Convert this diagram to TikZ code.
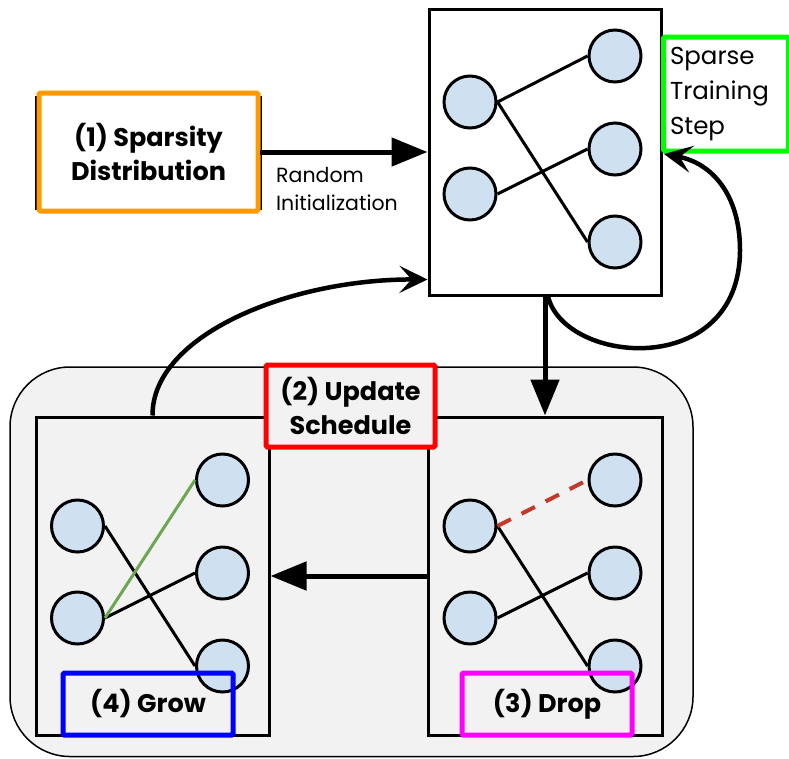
\documentclass[tikz,border=0pt]{standalone}
\usepackage{fontspec}
\setmainfont{Poppins}
\usetikzlibrary{arrows.meta}

\definecolor{panelgray}{HTML}{F2F2F2}
\definecolor{neuronblue}{HTML}{CFE0F1}
\definecolor{growgreen}{HTML}{6AA84F}
\definecolor{dropred}{HTML}{C5392A}
\definecolor{tagorange}{HTML}{FF9900}
\definecolor{tagred}{HTML}{FF0000}
\definecolor{tagblue}{HTML}{0000FF}
\definecolor{tagmagenta}{HTML}{FF00FF}
\definecolor{taggreen}{HTML}{00FF00}

\tikzset{
  neuron/.style={circle, draw=black, line width=3pt, fill=neuronblue,
    minimum size=52pt, inner sep=0pt},
  netbox/.style={draw=black, line width=3pt, inner sep=0pt},
  link/.style={draw=black, line width=3pt},
  flow/.style={line width=5pt, -{Triangle[length=36pt,width=28pt]}},
  curvearrow/.style={line width=4.5pt, -{Stealth[length=28pt,width=27pt,inset=12pt]}},
  tag/.style={line width=5pt, rounded corners=1.5pt},
  boldlabel/.style={font=\fontsize{25.5}{34.5}\selectfont\bfseries, align=center, inner sep=0pt},
}

\begin{document}
\begin{tikzpicture}[x=1pt,y=-1pt]
  \useasboundingbox (0,0) rectangle (789,758);

  % shaded panel holding the update steps
  \draw[fill=panelgray, line width=1.5pt, rounded corners=60pt]
    (10,367) rectangle (693,756.5);

  % network boxes
  \node[netbox, fill=white, minimum width=232pt, minimum height=286pt] (top) at (545,152) {};
  \node[netbox, minimum width=233pt, minimum height=318pt] (grow) at (152.5,576) {};
  \node[netbox, minimum width=234pt, minimum height=318pt] (drop) at (545,576) {};

  % neurons of the sparse network
  \foreach \b/\dx/\dy in {t/545/152, g/152.5/576, d/545/576} {
    \node[neuron] (\b l1) at ({\dx-75},{\dy-50}) {};
    \node[neuron] (\b l2) at ({\dx-75},{\dy+42}) {};
    \node[neuron] (\b r1) at ({\dx+70},{\dy-96}) {};
    \node[neuron] (\b r2) at ({\dx+70},{\dy-3}) {};
    \node[neuron] (\b r3) at ({\dx+70},{\dy+90}) {};
  }

  % connections
  \draw[link] (tl1.east) -- (tr1.west);
  \draw[link] (tl1.east) -- (tr3.west);
  \draw[link] (tl2.east) -- (tr2.west);

  \draw[link] (gl1.east) -- (gr3.west);
  \draw[link] (gl2.east) -- (gr2.west);
  \draw[draw=growgreen, line width=3pt] (gl2.east) -- (gr1.west);

  \draw[link] (dl1.east) -- (dr3.west);
  \draw[link] (dl2.east) -- (dr2.west);
  \draw[draw=dropred, line width=4pt, dash pattern=on 15pt off 12pt] (dl1.east) -- (dr1.west);

  % sparsity distribution
  \draw[line width=3pt] (36,97) rectangle (260,208);
  \draw[tag, draw=tagorange, fill=white] (39,93) rectangle (258,211);
  \node[boldlabel] (dist) at (148.5,152) {(1) Sparsity\\Distribution};

  % step labels
  \node[tag, draw=tagred, fill=panelgray, minimum width=169pt, minimum height=82pt,
        boldlabel] (sched) at (350.5,406) {(2) Update\\Schedule};
  \node[tag, draw=tagblue, minimum width=170pt, minimum height=62pt,
        boldlabel] (growtag) at (148,704) {(4) Grow};
  \node[tag, draw=tagmagenta, minimum width=170pt, minimum height=62pt,
        boldlabel] (droptag) at (547,704) {(3) Drop};
  \node[tag, draw=taggreen, fill=white, minimum width=125pt, minimum height=114pt,
        font=\fontsize{24.5}{35}\selectfont, align=left, text width=112pt,
        inner sep=0pt] (train) at (726,94) {Sparse\\Training\\Step};

  % flow of the procedure
  \draw[flow] (dist.east -| 260,152) -- (top.west);
  \node[font=\fontsize{20.5}{28}\selectfont, align=left, anchor=north west, inner sep=0pt]
    (init) at (276,167) {Random\\Initialization};
  \draw[flow] (top.south) -- (drop.north);
  \draw[flow] (drop.west) -- (grow.east);

  \coordinate (loopin) at (664,154);
  \draw[curvearrow] ([xshift=3pt]top.south) .. controls (565,365) and (740,380) .. (740,250)
    .. controls (740,195) and (712,163) .. (loopin);
  \draw[curvearrow] (grow.north) .. controls (152,335) and (290,279) .. ([yshift=17pt]top.south west);
\end{tikzpicture}
\end{document}
